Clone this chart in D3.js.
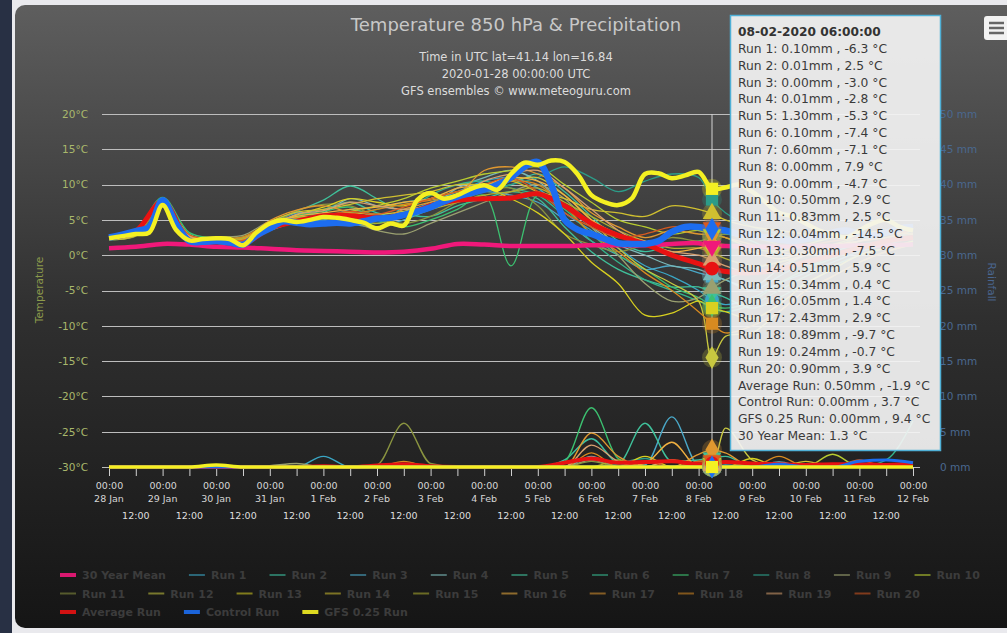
<!DOCTYPE html>
<html>
<head>
<meta charset="utf-8">
<script src="https://cdn.jsdelivr.net/npm/d3@7"></script>
<style>
html, body { margin: 0; padding: 0; background: #e9e9ed; overflow: hidden; }
svg { display: block; font-family: "DejaVu Sans", sans-serif; }
</style>
</head>
<body>
<svg id="chart_svg" width="1007" height="633"></svg>
<script>
// time frame: 12 h steps from 28 Jan 2020 00:00 UTC, hover at 8 Feb 06:00
const g_t0 = Date.UTC(2020, 0, 28);
const g_t1 = Date.UTC(2020, 1, 12);
const g_hover_t = Date.UTC(2020, 1, 8, 6);
const g_hour = 3600 * 1000;

// tick labels
const g_temp_ticks = [-30, -25, -20, -15, -10, -5, 0, 5, 10, 15, 20];
const g_rain_ticks = [0, 5, 10, 15, 20, 25, 30, 35, 40, 45, 50];

// series names (tooltip order)
const g_names = ["Run 1", "Run 2", "Run 3", "Run 4", "Run 5", "Run 6", "Run 7", "Run 8", "Run 9", "Run 10",
                 "Run 11", "Run 12", "Run 13", "Run 14", "Run 15", "Run 16", "Run 17", "Run 18", "Run 19", "Run 20",
                 "Average Run", "Control Run", "GFS 0.25 Run", "30 Year Mean"];
const g_colors = ["#3aa6c4", "#3cc0a0", "#4aa8c8", "#7ab8b8", "#3fc09a", "#34b48c", "#3cc070", "#2c9c88", "#9aa070", "#b8cc30",
                  "#8a9440", "#c8c840", "#d8d020", "#d0c030", "#b0b030", "#f0b040", "#e09830", "#d88a20", "#d8a070", "#d85a20",
                  "#e81212", "#1c6df0", "#f4f022", "#f0187a"];
const g_legend_rows = [[23, 0, 1, 2, 3, 4, 5, 6, 7, 8, 9],
                       [10, 11, 12, 13, 14, 15, 16, 17, 18, 19],
                       [20, 21, 22]];

// temperature of the 20 runs, every 12 h (°C)
const g_run_temp = [
    [2.4, 3.0, 7.8, 2.6, 2.2, 2.4, 4.5, 5.2, 5.0, 6.5, 5.5, 6.0, 7.5, 9.0, 10.5, 11.0, 9.5, 6.0, 3.5, 1.0, -1.5, -3.0, -5.0, -7.0, -6.0, -4.0, -2.5, -1.0, 0.5, 1.5, 2.5],
    [2.2, 2.8, 7.2, 3.0, 1.8, 1.6, 3.8, 5.8, 6.5, 7.5, 6.0, 5.5, 7.0, 8.5, 9.5, 10.0, 11.5, 9.0, 5.5, 2.0, 0.5, 1.5, 2.0, 3.0, 2.0, 0.0, -1.5, -0.5, 1.0, 2.0, 3.5],
    [2.6, 3.3, 7.6, 2.2, 2.0, 2.2, 4.2, 6.0, 5.5, 4.5, 4.0, 5.0, 6.5, 8.0, 9.0, 8.5, 7.5, 5.0, 2.0, 0.0, -2.0, -1.5, -2.5, -3.5, -5.0, -3.0, -1.0, 0.5, 1.5, 2.0, 2.5],
    [2.3, 3.1, 7.4, 2.8, 2.5, 2.0, 3.5, 4.8, 6.0, 8.0, 7.0, 6.5, 7.0, 9.5, 11.0, 12.0, 10.5, 7.0, 4.0, 1.5, 0.0, -1.5, -2.0, -3.5, -4.5, -2.0, 0.0, 1.0, 2.5, 3.0, 4.0],
    [2.5, 3.0, 7.9, 2.4, 1.7, 1.5, 4.6, 6.2, 7.8, 9.8, 8.0, 6.0, 5.5, 7.0, 8.0, 9.0, 8.0, 4.0, 0.5, -2.0, -3.5, -4.5, -4.5, -6.0, -7.5, -6.0, -4.0, -2.0, 0.0, 1.0, 1.5],
    [2.4, 2.9, 7.0, 2.5, 2.3, 2.6, 4.0, 5.5, 5.8, 5.0, 4.5, 6.0, 8.5, 10.0, 10.5, 9.5, 8.5, 5.5, 2.0, -1.0, -3.5, -5.0, -6.5, -8.0, -7.0, -5.0, -3.0, -1.5, 0.0, 1.0, 2.0],
    [2.7, 3.4, 8.2, 3.2, 2.4, 1.9, 4.4, 5.6, 6.2, 6.8, 5.0, 4.0, 5.0, 6.5, 8.5, -1.5, 8.5, 6.5, 3.0, 0.0, -2.0, -4.5, -6.0, -7.5, -6.5, -4.0, -2.0, 0.0, 1.0, 2.0, 2.5],
    [2.3, 2.9, 7.3, 2.7, 2.1, 2.3, 3.9, 5.0, 4.8, 5.5, 6.5, 7.5, 8.0, 8.5, 9.0, 10.0, 11.0, 12.5, 11.0, 9.0, 10.5, 11.5, 11.0, 6.0, 4.0, 3.0, 2.0, 2.5, 3.0, 3.5, 4.0],
    [2.5, 3.2, 7.0, 2.4, 2.6, 2.8, 4.8, 5.4, 5.2, 4.8, 3.5, 3.0, 4.5, 6.0, 7.5, 9.0, 10.0, 8.0, 4.0, 0.0, -4.0, -6.5, -6.0, -3.5, -2.0, -1.0, 0.0, 1.0, 2.0, 2.5, 3.0],
    [2.6, 3.1, 7.6, 2.9, 2.2, 1.7, 3.6, 5.3, 5.6, 6.2, 7.0, 8.0, 9.5, 10.5, 11.5, 12.0, 12.5, 10.0, 7.5, 5.0, 4.0, 3.0, 3.5, 2.5, 1.0, 0.5, 1.5, 2.5, 3.0, 3.5, 4.0],
    [2.3, 2.7, 6.8, 2.1, 2.0, 2.1, 4.1, 6.3, 7.2, 7.0, 5.5, 4.5, 5.5, 7.5, 9.0, 9.5, 7.0, 3.0, 1.5, 0.5, 1.5, 2.5, 2.0, 3.0, 2.5, 1.5, 0.0, 1.0, 2.5, 3.0, 3.5],
    [2.4, 3.0, 7.5, 2.5, 2.3, 2.5, 4.3, 5.1, 5.4, 6.0, 5.8, 6.2, 7.2, 8.2, 9.5, 10.5, 11.0, 8.5, 5.0, 1.0, -2.0, -4.0, -6.5, -11.5, -11.0, -8.0, -5.0, -3.0, -1.0, 0.5, 1.5],
    [2.5, 3.3, 7.1, 2.7, 1.9, 2.0, 4.0, 5.7, 6.8, 8.0, 7.5, 7.0, 8.0, 9.0, 9.5, 8.0, 6.0, 3.0, -1.0, -4.0, -8.5, -8.2, -6.5, -8.0, -9.0, -7.0, -4.0, -2.0, 0.0, 1.0, 2.0],
    [2.2, 2.8, 7.7, 2.3, 2.4, 2.3, 4.7, 6.1, 6.5, 7.2, 8.0, 8.5, 9.0, 10.0, 10.0, 10.5, 9.0, 8.0, 6.5, 6.0, 5.5, 7.0, 6.5, 5.0, 4.0, 3.5, 3.0, 2.5, 3.0, 3.5, 4.0],
    [2.6, 3.2, 7.3, 2.6, 2.1, 2.4, 3.7, 4.9, 5.3, 5.5, 4.5, 5.5, 6.5, 7.5, 8.5, 9.0, 9.5, 7.5, 5.5, 3.5, 2.0, 1.0, 1.0, -0.5, -1.5, -1.0, 0.0, 1.5, 2.5, 3.0, 3.5],
    [2.4, 3.0, 7.4, 2.8, 2.3, 1.8, 4.3, 5.5, 6.0, 6.5, 6.8, 7.5, 8.0, 9.5, 10.0, 11.0, 10.5, 8.5, 5.0, 3.0, 2.0, 0.5, 1.0, 1.5, 0.5, -0.5, 0.5, 1.5, 2.0, 3.0, 3.0],
    [2.3, 3.1, 7.9, 2.5, 2.2, 2.2, 4.9, 6.4, 7.0, 6.0, 5.0, 6.5, 7.5, 8.5, 12.0, 12.5, 11.5, 9.5, 6.0, 4.0, 2.5, 3.5, 3.0, 2.5, 1.5, 0.5, 0.0, 1.0, 2.0, 2.5, 3.5],
    [2.5, 3.1, 7.2, 2.4, 2.4, 2.6, 4.5, 5.2, 5.5, 5.8, 6.5, 7.2, 7.8, 8.5, 9.5, 10.5, 10.0, 7.0, 3.0, 0.5, -2.5, -5.0, -8.0, -11.0, -10.0, -8.0, -5.0, -3.0, -1.0, 0.5, 1.5],
    [2.4, 2.9, 7.6, 2.7, 2.0, 2.0, 4.1, 5.8, 6.3, 7.5, 7.0, 6.5, 7.0, 8.0, 10.5, 11.5, 12.0, 9.5, 6.5, 3.5, 1.5, 0.5, 0.0, -1.5, -2.5, -1.5, 0.0, 1.0, 2.0, 3.0, 3.5],
    [2.6, 3.4, 7.3, 2.9, 2.3, 2.1, 3.9, 5.0, 5.6, 6.2, 5.8, 6.8, 8.0, 9.0, 10.0, 11.0, 9.0, 6.0, 4.0, 2.5, 3.0, 4.0, 4.0, 3.5, 3.0, 2.0, 1.5, 2.0, 2.5, 3.0, 3.5]
];

// precipitation of the 20 runs, every 12 h (mm)
const g_run_rain = [
    [0, 0, 0, 0, 0, 0, 0, 0, 1.5, 0, 0, 0, 0, 0, 0, 0, 0, 0, 0, 0, 0, 0, 0.2, 0.3, 0, 0, 0, 0, 0, 0, 0],
    [0, 0, 0, 0, 0, 0, 0, 0, 0, 0, 0, 0, 0, 0, 0, 0, 0, 1.0, 4.0, 0.5, 0, 0, 0.1, 0, 0, 0, 0, 0, 0, 0, 0],
    [0, 0, 0, 0, 0, 0, 0, 0, 0, 0, 0, 0, 0, 0, 0, 0, 0, 0, 0, 0, 0.3, 7.1, 0.2, 0, 0, 0, 0, 0, 0, 0, 0],
    [0, 0, 0, 0, 0, 0, 0, 0, 0, 0, 0, 0, 0, 0, 0, 0, 0, 0, 1.5, 0, 0, 0, 0, 0, 0, 0.7, 0, 0, 0, 0, 0],
    [0, 0, 0, 0, 0, 0, 0, 0, 0, 0, 0, 0, 0, 0, 0, 0, 0, 0, 0, 0.4, 6.2, 0.8, 1.0, 1.5, 0, 0, 0, 0, 0, 0, 0],
    [0, 0, 0, 0, 0, 0, 0, 0, 0, 0, 0, 0, 0, 0, 0, 0, 0, 0, 0, 0, 0, 0, 0.2, 0, 0, 0, 0, 0, 0, 1.0, 6.5],
    [0, 0, 0, 0, 0, 0, 0, 0, 0, 0, 0, 0, 0, 0, 0, 0, 0, 0.8, 8.4, 1.2, 0, 0, 0.5, 0.7, 0, 0, 0, 0, 0, 0, 0],
    [0, 0, 0, 0, 0, 0, 0, 0, 0, 0, 0, 0, 0, 0, 0, 0, 0, 0, 0, 0.5, 1.2, 0, 0, 0, 0, 0, 0, 0, 0, 0, 0],
    [0, 0, 0, 0, 0, 0, 0.2, 0.5, 0, 0, 0, 0, 0, 0, 0, 0, 0, 0, 1.0, 0, 0, 0, 0, 0, 0, 0, 0, 0, 0, 0, 0],
    [0, 0, 0, 0, 0, 0, 0, 0, 0, 0, 0, 0, 0, 0, 0, 0, 0, 0, 0, 0, 0, 0, 0.4, 0.8, 0, 0, 0, 1.8, 0, 0, 0],
    [0, 0, 0, 0, 0, 0, 0, 0, 0, 0, 0.3, 6.2, 0.5, 0, 0, 0, 0, 0, 0.8, 0, 0, 0, 0, 0, 0, 0, 0, 0, 0, 0, 0],
    [0, 0, 0, 0, 0, 0, 0, 0, 0, 0, 0, 0, 0, 0, 0, 0, 0, 0, 0, 0, 0, 0, 0, 5.5, 1.0, 0, 0, 0, 0, 0, 0],
    [0, 0, 0, 0, 0, 0, 0, 0, 0, 0, 0, 0, 0, 0, 0, 0, 0, 0, 0, 0, 1.5, 0, 0, 0, 1.2, 0, 0, 0, 0, 0, 0],
    [0, 0, 0, 0, 0, 0, 0, 0, 0, 0, 0, 0, 0, 0, 0, 0, 0, 0, 0, 0, 0, 1.0, 0.5, 0, 0, 0, 0.8, 0, 0, 0, 0],
    [0, 0, 0, 0, 0, 0, 0, 0, 0, 0, 0, 0, 0, 0, 0, 0, 0, 0, 0, 1.0, 0, 0, 0.3, 0, 0, 0, 0, 0, 0.5, 0, 0],
    [0, 0, 0, 0, 0, 0, 0, 0, 0, 0, 0, 0, 0, 0, 0, 0, 0, 0, 0, 0, 0.5, 3.5, 0, 0, 0, 0, 0, 0, 0, 0, 0],
    [0, 0, 0, 0, 0, 0, 0, 0, 0, 0, 0, 0, 0, 0, 0, 0, 0, 0, 4.8, 1.5, 0, 0, 1.8, 2.0, 0, 0, 0, 0, 0, 0, 0],
    [0, 0, 0, 0, 0, 0, 0, 0, 0, 0, 0, 0.8, 0, 0, 0, 0, 0, 0, 2.0, 0, 0, 0, 0.8, 0, 0, 1.5, 0, 0, 0, 0, 0],
    [0, 0, 0, 0, 0, 0, 0, 0, 0, 0, 0, 0, 0, 0, 0, 0, 0, 0, 3.1, 0.8, 0, 1.0, 0, 0, 0, 0, 0, 0, 0, 0, 0],
    [0, 0, 0, 0, 0, 0, 0, 0, 0, 0, 0, 0, 0, 0, 0, 0, 0, 0, 0, 0, 0.8, 0, 0.8, 0, 0, 0, 0, 0, 1.0, 0, 0]
];

// average run and 30 year mean, every 12 h
const g_avg_temp = [2.5, 3.4, 7.6, 2.1, 2.0, 1.6, 3.8, 4.8, 5.6, 5.6, 5.3, 5.7, 7.0, 7.8, 8.0, 8.1, 8.7, 7.0, 4.5, 2.8, 1.6, 0.0, -1.2, -2.3, -2.5, -2.0, -1.0, 0.0, 1.0, 2.0, 2.5];
const g_avg_rain = [0, 0, 0, 0, 0, 0, 0, 0, 0.1, 0, 0.2, 0.4, 0.1, 0, 0, 0, 0, 0.6, 1.2, 0.6, 0.7, 0.8, 0.4, 0.7, 0.5, 0.4, 0.3, 0.4, 0.4, 0.3, 0.5];
const g_mean_temp = [1.0, 1.2, 1.6, 1.5, 1.2, 1.1, 0.9, 0.7, 0.6, 0.5, 0.4, 0.5, 0.9, 1.6, 1.5, 1.3, 1.3, 1.3, 1.4, 1.4, 1.4, 1.6, 1.7, 1.3, 1.2, 1.2, 1.3, 1.3, 1.4, 1.4, 1.5];
const g_ctl_rain = [0, 0, 0, 0, 0, 0, 0, 0, 0, 0, 0, 0, 0, 0, 0, 0, 0, 0, 0, 0, 0, 0, 0, 0, 0, 0.4, 0, 0, 0.8, 1.0, 0.6];
const g_gfs_rain = [0, 0, 0, 0, 0.3, 0, 0, 0, 0, 0, 0, 0, 0, 0, 0, 0, 0, 0, 0, 0, 0, 0, 0, 0, 0, 0, 0, 0, 0, 0, 0];

// control run and GFS 0.25, every 6 h (°C)
const g_ctl_temp = [2.5, 2.9, 3.4, 4.0, 7.8, 4.5, 2.0, 1.9, 2.0, 1.8, 1.5, 2.8, 3.8, 4.8, 4.6, 4.4, 4.5, 4.6, 4.5, 4.8,
                    5.2, 5.3, 5.7, 6.2, 6.8, 7.6, 8.3, 8.8, 9.3, 10.0, 11.0, 12.5, 13.2, 10.0, 5.0, 3.6, 3.0, 2.3, 1.7, 1.6,
                    1.6, 2.0, 3.3, 4.0, 4.0, 3.7, 3.5, 3.0, 2.8, 2.5, 2.2, 2.0, 2.3, 2.8, 3.2, 3.5, 3.0, 2.8, 3.2, 3.8, 4.0];
const g_gfs_temp = [2.4, 2.7, 3.0, 3.2, 7.1, 3.6, 2.1, 2.3, 2.4, 2.3, 1.4, 3.2, 4.5, 5.0, 4.7, 5.0, 5.4, 5.3, 5.0, 4.6,
                    3.8, 4.5, 4.2, 7.8, 8.8, 8.0, 8.5, 9.4, 9.9, 9.3, 11.5, 13.1, 12.8, 13.4, 13.2, 11.4, 8.5, 7.5, 7.1, 8.0,
                    11.5, 11.6, 10.9, 11.3, 11.8, 9.4, 9.6, 10.0, 9.0, 7.5, 6.0, 5.5, 4.5, 3.5, 3.0, 2.5, 3.5, 4.5, 5.0, 4.0, 3.5];

// tooltip values at 08-02-2020 06:00 (tooltip order)
const g_hover_rain = [0.10, 0.01, 0.00, 0.01, 1.30, 0.10, 0.60, 0.00, 0.00, 0.50,
                      0.83, 0.04, 0.30, 0.51, 0.34, 0.05, 2.43, 0.89, 0.24, 0.90,
                      0.50, 0.00, 0.00, null];
const g_hover_temp = [-6.3, 2.5, -3.0, -2.8, -5.3, -7.4, -7.1, 7.9, -4.7, 2.9,
                      2.5, -14.5, -7.5, 5.9, 0.4, 1.4, 2.9, -9.7, -0.7, 3.9,
                      -1.9, 3.7, 9.4, 1.3];

const g_symbols = [d3.symbolCircle, d3.symbolDiamond, d3.symbolSquare, d3.symbolTriangle, "down"];

let g_x, g_temp, g_rain, g_structure;

// build points list and put the hover value at its time if missing
function build_points(vals, step, hover_val) {
    var pts = vals.map((v, i) => ({ t: g_t0 + i * step * g_hour, v: v }));
    if (hover_val != null && !pts.some(p => p.t === g_hover_t)) {
        pts.push({ t: g_hover_t, v: hover_val });
        pts.sort((a, b) => a.t - b.t);
    }
    return pts;
}

function draw_chart() {
    var svg = d3.select("#chart_svg");
    svg.selectAll("*").remove();

    // background
    var defs = svg.append("defs");
    var grad = defs.append("linearGradient").attr("id", "bg_grad")
        .attr("x1", 0).attr("y1", 0).attr("x2", 0).attr("y2", 1);
    grad.append("stop").attr("offset", 0).attr("stop-color", "#5e5e5e");
    grad.append("stop").attr("offset", 0.5).attr("stop-color", "#2f2f2f");
    grad.append("stop").attr("offset", 1).attr("stop-color", "#151515");
    svg.append("rect").attr("width", 1007).attr("height", 633).attr("fill", "#e9e9ed");
    svg.append("rect").attr("width", 12).attr("height", 633).attr("fill", "#283044");
    svg.append("rect").attr("x", 15).attr("y", 5).attr("width", 1010).attr("height", 623)
        .attr("rx", 10).attr("fill", "url(#bg_grad)");

    // scales
    g_x = d3.scaleUtc().domain([g_t0, g_t1]).range([109, 913]);
    g_temp = d3.scaleLinear().domain([-30, 20]).range([467, 114]);
    g_rain = d3.scaleLinear().domain([0, 50]).range([467, 114]);
    g_structure = svg.append("g");

    // grid
    g_structure.selectAll(".grid").data(g_temp_ticks).join("line").classed("grid", true)
        .attr("x1", 102).attr("x2", 920)
        .attr("y1", d => Math.round(g_temp(d)) + 0.5).attr("y2", d => Math.round(g_temp(d)) + 0.5)
        .attr("stroke", "#bdbdbd").attr("stroke-width", 1);

    // temperature axis
    var ax_t = g_structure.append("g").attr("transform", "translate(92,0)")
        .call(d3.axisLeft(g_temp).tickValues(g_temp_ticks).tickFormat(d => d + "°C").tickSize(0).tickPadding(4));
    ax_t.select(".domain").remove();
    ax_t.selectAll("text").attr("fill", "#a9b86c").attr("font-size", 10.5).attr("font-family", "DejaVu Sans");
    g_structure.append("text").text("Temperature")
        .attr("transform", "translate(43,290) rotate(-90)").attr("text-anchor", "middle")
        .attr("fill", "#8c9a4c").attr("font-size", 10.5);

    // rain axis
    var ax_r = g_structure.append("g").attr("transform", "translate(938,0)")
        .call(d3.axisRight(g_rain).tickValues(g_rain_ticks).tickFormat(d => d + " mm").tickSize(0).tickPadding(2));
    ax_r.select(".domain").remove();
    ax_r.selectAll("text").attr("fill", "#4a6890").attr("font-size", 10.5).attr("font-family", "DejaVu Sans");
    g_structure.append("text").text("Rainfall")
        .attr("transform", "translate(988,282) rotate(90)").attr("text-anchor", "middle")
        .attr("fill", "#4a6690").attr("font-size", 10.5);

    // time axis: 00:00 + date on midnight ticks, 12:00 on a third row
    var ticks = d3.utcHour.every(12).range(g_t0, g_t1 + 1);
    var ax_x = g_structure.append("g").attr("transform", "translate(0,467)")
        .call(d3.axisBottom(g_x).tickValues(ticks).tickSize(9).tickPadding(6)
            .tickFormat(d => d.getUTCHours() === 0 ? "00:00" : ""));
    ax_x.select(".domain").remove();
    ax_x.selectAll("line").attr("stroke", "#d0d0d0");
    ax_x.selectAll("text").attr("fill", "#d6d6d6").attr("font-size", 9.5).attr("font-family", "DejaVu Sans");
    var fmt_day = d3.utcFormat("%-d %b");
    g_structure.selectAll(".xday").data(ticks.filter(d => d.getUTCHours() === 0)).join("text").classed("xday", true)
        .attr("x", d => g_x(d)).attr("y", 502).attr("text-anchor", "middle")
        .attr("fill", "#d6d6d6").attr("font-size", 9.5).text(d => fmt_day(d));
    g_structure.selectAll(".xnoon").data(ticks.filter(d => d.getUTCHours() === 12)).join("text").classed("xnoon", true)
        .attr("x", d => g_x(d)).attr("y", 519).attr("text-anchor", "middle")
        .attr("fill", "#dedede").attr("font-size", 9.5).text("12:00");

    // series
    var ser = g_names.map((n, i) => ({ name: n, color: g_colors[i], idx: i }));
    ser.forEach((s, i) => {
        if (i < 20) {
            s.temp = build_points(g_run_temp[i], 12, g_hover_temp[i]);
            s.rain = build_points(g_run_rain[i], 12, g_hover_rain[i]);
            s.w = 1.3; s.rw = 1.4;
        }
    });
    ser[20].temp = build_points(g_avg_temp, 12, g_hover_temp[20]); ser[20].rain = build_points(g_avg_rain, 12, g_hover_rain[20]);
    ser[21].temp = build_points(g_ctl_temp, 6, g_hover_temp[21]); ser[21].rain = build_points(g_ctl_rain, 12, g_hover_rain[21]);
    ser[22].temp = build_points(g_gfs_temp, 6, g_hover_temp[22]); ser[22].rain = build_points(g_gfs_rain, 12, g_hover_rain[22]);
    ser[23].temp = build_points(g_mean_temp, 12, g_hover_temp[23]); ser[23].rain = null;
    ser[20].w = 5; ser[20].rw = 4;
    ser[21].w = 6.5; ser[21].rw = 3;
    ser[22].w = 4.5; ser[22].rw = 3.5;
    ser[23].w = 4.5;

    var draw_order = d3.range(20).concat([23, 20, 21, 22]);
    var line_t = d3.line().x(p => g_x(p.t)).y(p => g_temp(p.v)).curve(d3.curveCatmullRom.alpha(0.5));
    var line_r = d3.line().x(p => g_x(p.t)).y(p => g_rain(p.v)).curve(d3.curveMonotoneX);

    g_structure.selectAll(".rain").data(draw_order.filter(i => ser[i].rain).map(i => ser[i])).join("path").classed("rain", true)
        .attr("d", s => line_r(s.rain)).attr("fill", "none")
        .attr("stroke", s => s.color).attr("stroke-width", s => s.rw);
    g_structure.selectAll(".temp").data(draw_order.map(i => ser[i])).join("path").classed("temp", true)
        .attr("d", s => line_t(s.temp)).attr("fill", "none")
        .attr("stroke", s => s.color).attr("stroke-width", s => s.w)
        .attr("stroke-linejoin", "round");

    // crosshair
    var hx = g_x(g_hover_t);
    g_structure.append("line").attr("x1", hx).attr("x2", hx).attr("y1", 114).attr("y2", 467)
        .attr("stroke", "#d4d4d4").attr("stroke-width", 1);

    // hover markers
    var marks = [];
    draw_order.forEach(i => {
        marks.push({ s: ser[i], y: g_temp(g_hover_temp[i]) });
        if (g_hover_rain[i] != null) marks.push({ s: ser[i], y: g_rain(g_hover_rain[i]) });
    });
    var sym_of = s => g_symbols[(((s.idx + 1) % 24) + 4) % 5];
    g_structure.selectAll(".halo").data(marks).join("circle").classed("halo", true)
        .attr("cx", hx).attr("cy", m => m.y).attr("r", 10)
        .attr("fill", m => m.s.color).attr("fill-opacity", 0.25);
    g_structure.selectAll(".mark").data(marks).join("path").classed("mark", true)
        .attr("transform", m => "translate(" + hx + "," + m.y + ")" + (sym_of(m.s) === "down" ? " rotate(180)" : ""))
        .attr("d", m => d3.symbol().type(sym_of(m.s) === "down" ? d3.symbolTriangle : sym_of(m.s)).size(150)())
        .attr("fill", m => m.s.color);

    // title
    svg.append("text").text("Temperature 850 hPa & Precipitation").attr("x", 516).attr("y", 31)
        .attr("text-anchor", "middle").attr("fill", "#c8c8c8").attr("font-size", 18);
    var subs = ["Time in UTC lat=41.14 lon=16.84", "2020-01-28 00:00:00 UTC", "GFS ensembles © www.meteoguru.com"];
    svg.selectAll(".sub").data(subs).join("text").classed("sub", true)
        .attr("x", 516).attr("y", (d, i) => 61 + i * 17).attr("text-anchor", "middle")
        .attr("fill", "#dcdcdc").attr("font-size", 11.5).text(d => d);

    // legend
    var lg = svg.append("g");
    g_legend_rows.forEach((row, r) => {
        var lx = 60, ly = 579 + r * 18.5;
        row.forEach(i => {
            var s = ser[i];
            lg.append("line").attr("x1", lx).attr("x2", lx + 16).attr("y1", ly - 4).attr("y2", ly - 4)
                .attr("stroke", s.color).attr("stroke-width", i < 20 ? 2 : 4)
                .attr("stroke-opacity", i < 20 ? 0.55 : 0.9);
            var t = lg.append("text").attr("x", lx + 22).attr("y", ly).text(s.name)
                .attr("fill", "#3c3c3c").attr("font-size", 11).attr("font-weight", "bold");
            lx += 22 + t.node().getComputedTextLength() + 23;
        });
    });

    // tooltip
    var tip = svg.append("g");
    tip.append("rect").attr("x", 730.5).attr("y", 15.5).attr("width", 210).attr("height", 435)
        .attr("fill", "#f4f4f4").attr("fill-opacity", 0.92)
        .attr("stroke", "#4fb0d6").attr("stroke-width", 1.5);
    var lines = g_names.map((n, i) => n + ": " + (g_hover_rain[i] != null ? g_hover_rain[i].toFixed(2) + "mm , " : "")
        + g_hover_temp[i].toFixed(1) + " °C");
    tip.append("text").attr("x", 738).attr("y", 36).text("08-02-2020 06:00:00")
        .attr("fill", "#333").attr("font-size", 12.2).attr("font-weight", "bold");
    tip.selectAll(".tl").data(lines).join("text").classed("tl", true)
        .attr("x", 738).attr("y", (d, i) => 36 + (i + 1) * 16.84).text(d => d)
        .attr("fill", "#3a3a3a").attr("font-size", 12.3);

    // menu button
    svg.append("rect").attr("x", 984).attr("y", 16).attr("width", 30).attr("height", 24).attr("rx", 3).attr("fill", "#f2f2f2");
    svg.selectAll(".menu").data([23, 28, 33]).join("line").classed("menu", true)
        .attr("x1", 989).attr("x2", 1004).attr("y1", d => d).attr("y2", d => d)
        .attr("stroke", "#666").attr("stroke-width", 2.5);
}

draw_chart();
</script>
</body>
</html>
